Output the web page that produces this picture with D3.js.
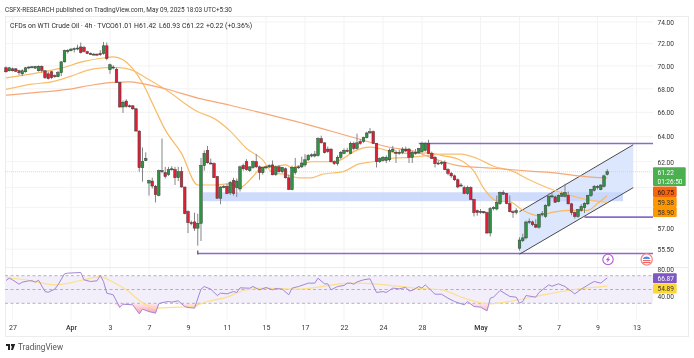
<!DOCTYPE html>
<html><head><meta charset="utf-8">
<script src="https://cdn.jsdelivr.net/npm/d3@7/dist/d3.min.js"></script>
<style>html,body{margin:0;padding:0;background:#fff}svg{display:block;filter:blur(.3px)}text{font-family:Roboto,"Noto Sans",sans-serif}</style>
</head><body><svg id="c" width="694" height="358"></svg>
<script>
const opens=[69.83,69.57,69.74,69.74,69.57,69.3,69.48,69.83,69.85,69.8,69.57,69.95,69.57,69.3,69.48,69.14,69.05,69.4,70.36,71.27,71.36,71.5,71.55,71.7,71.65,71.27,71.1,71.05,71.05,71.1,71.1,71.8,69.66,69.9,69.7,68.55,66.45,66.95,66.55,66.55,66.3,64.46,61.53,62.08,60.35,60.5,60.1,59.4,61.3,61.15,61,61.42,61.38,60.76,61.22,60.05,58.2,57.4,57.45,57,57.35,61.7,62.9,61.9,61.85,60.85,59.2,60.05,60.1,59.6,60.55,60,59.9,61.7,62,61.3,61.55,62,61.6,61.15,61.55,61.6,61.75,61,61.6,61.22,61.45,60.75,59.85,61.15,61.55,61.6,61.75,62.15,62.45,62.45,62.5,63.84,63.5,63,63,62,61.85,62.35,62.65,62.9,62.65,63.45,63.05,63.6,63.6,63.92,64.3,64.4,63.45,62,62.1,62.1,62.15,62.8,62.75,62.72,62.72,63,63,62.35,62.75,62.7,62.8,62.9,63.45,62.65,62.35,61.9,61.9,61.95,61.38,61.1,60.9,60.6,60.2,60,59.55,60,59.1,58.28,58.2,58.2,58.13,56.65,58.42,58.4,58.8,59.62,59.55,58.8,58.2,58.13,55.57,56.1,56.3,57.45,57.45,57.25,57.07,58,57.85,58.65,59.33,59.3,58.95,59.35,59.35,59.4,58.78,58.13,57.85,58.3,58.5,58.78,59.4,59.8,60,59.85,60.1,61.01];
const highs=[69.95,69.9,69.85,69.8,69.65,69.7,69.9,69.95,70,70,70.05,70.05,69.6,69.5,69.55,69.25,69.55,70.4,71.45,71.5,71.6,71.65,71.9,72.1,71.8,71.35,71.2,71.15,71.1,71.4,72.15,72.1,70.2,70.05,69.85,68.6,67,67.1,66.65,66.6,66.35,64.5,63.13,62.74,60.6,60.76,60.2,61.38,63.85,61.6,61.6,61.65,61.6,61.6,61.6,60.05,58.3,57.55,58.13,58.05,62.3,62.9,63.25,62.25,61.95,60.9,60.1,60.2,60.3,60.5,60.75,60.7,61.7,61.85,62.2,61.65,62.1,62.6,61.7,61.6,61.7,61.8,62.1,61.7,61.75,61.6,61.55,61,61.7,62.3,61.7,62.4,62.6,62.6,62.65,62.85,63.95,64.08,63.55,63.2,63.05,62.1,62.5,62.85,63.05,63.1,63.6,63.6,64.25,63.8,64,64.4,64.7,64.5,63.5,62.35,62.45,62.5,63.05,63.25,62.9,62.95,63.15,63.2,63.1,62.85,63,63.1,63.6,63.55,63.75,62.8,62.45,62.1,62.05,62.1,61.5,61.2,61,60.7,60.35,60.15,60.15,60.1,59.15,58.35,58.4,58.25,58.2,58.55,58.6,59.4,59.7,59.8,59.6,59.4,58.3,58.45,56.35,56.6,57.55,57.7,57.55,57.65,58.05,58.25,58.75,59.55,59.7,59.4,59.5,59.7,60.3,59.7,58.85,58.2,58.4,58.75,58.9,59.45,59.9,60.2,60.2,60.25,61,61.42];
const lows=[69.4,69.5,69.5,69.45,69.2,69.1,69.4,69.7,69.8,69.75,69.5,69.4,68.85,68.8,68.85,68.95,69,69.1,70.3,71.1,71.3,71.2,71.4,71.1,71.2,71.05,71,70.95,70.9,70.9,71,70.5,69.3,69.7,68.5,66.4,65.95,66.4,66.4,66.2,64.4,61.22,60.45,62.05,59.4,59.93,58.88,59.35,61.1,60.7,60.9,61.3,60.2,60.5,60,58,56.65,57.2,56.8,55.75,56.08,61.3,61.85,61.8,60.75,59.15,58.75,59.95,59.5,59.45,59.4,59.3,59.7,61.3,61.3,61.2,61.45,61.5,60.6,61,61.4,61.5,60.95,60.9,61.15,61.1,60.7,59.85,59.8,61,61.45,61.5,61.6,62.05,62.35,62.35,62.4,63.45,62.65,62.7,61.95,61.75,61.7,62.2,62.6,62.75,62.6,62.9,62.95,63.35,63.5,63.85,64.25,63.4,61.55,61.9,62,61.9,62,62.75,61.9,62.55,62.6,62.75,61.9,61.9,62.55,62.6,62.7,62.8,62.6,62.25,61.55,61.75,61.75,61.35,60.95,60.75,60.5,59.95,60.05,59.5,59.45,59.05,57.85,57.9,58.05,58.05,56.6,56.4,58.3,58.3,58.7,59.45,58.75,58.15,57.75,58,55.4,56,56.2,57.3,57.15,57,56.95,57.85,57.75,58.55,59.2,58.85,58.9,59.3,59.25,58.75,57.95,57.7,57.75,58.2,58.1,58.7,59.3,59.7,59.85,59.8,60,60.93];
const closes=[69.48,69.83,69.57,69.52,69.4,69.57,69.83,69.9,69.92,69.95,69.95,69.6,68.97,68.88,68.97,69.05,69.4,70.36,71.36,71.4,71.5,71.55,71.6,71.2,71.3,71.1,71.05,71.05,71,71,71.8,70.65,70.1,69.83,68.55,66.45,66.85,66.5,66.5,66.3,64.46,61.53,62,62.26,60.53,60.12,59.47,61.3,61.22,60.85,61.38,61.45,60.76,61.22,60.05,58.06,57.4,57.35,57,57.35,61.7,62.66,61.92,61.85,60.76,59.2,60.05,60.08,59.55,60.4,59.55,60.5,61.6,61.45,61.38,61.6,62,61.6,61.15,61.55,61.6,61.7,60.98,61.6,61.22,61.55,60.75,59.85,61.55,61.55,61.6,61.9,62.15,62.5,62.55,62.6,63.84,63.5,62.72,62.8,62,61.85,62.35,62.75,62.9,62.85,63.45,63.05,63.5,63.45,63.92,64.3,64.4,63.45,62,62.25,62.35,62.35,62.9,63,62.7,62.75,63,62.85,62.35,62.75,62.65,63.05,63.45,63.45,62.65,62.25,61.85,61.85,61.95,61.38,61.1,60.9,60.6,60.05,60.15,59.55,60,59.1,58.13,58.13,58.22,58.12,56.65,58.42,58.5,58.88,59.62,59.5,58.8,58.2,58.13,58.28,56.15,56.3,57.44,57.5,57.25,57.07,58,58.05,58.65,59.33,59.38,58.9,59.4,59.55,59.62,58.78,58.13,57.85,58.35,58.58,58.8,59.4,59.85,60.1,60.08,60.2,60.9,61.22];

const fastBars=[0,8,17,24,30,33,36,39,42,46,49,54,59,64,69,72,76,79,82,86,88,94,100,103,107,112,115,120,126,130,134,140,144,147,151,155,159,164,168,173,179,182,185];
const fastVals=[68.95,69.3,69.8,70.4,70.7,70.8,70.55,69.75,68.5,66.2,64.55,62.66,60.2,60.2,60.3,60,60.85,61.6,61.6,61.75,61.55,62,62,62.15,62.8,63.15,63.05,62.7,62.65,62.7,62.5,62.1,61.25,59.95,59,58.95,58.3,57.9,58.15,58.3,58.3,58.8,59.38];
const midBars=[0,8,14,20,25,31,35,39,43,49,59,64,69,74,79,82,86,90,94,97,104,108,113,120,124,130,134,140,145,150,156,161,166,174,181,185];
const midVals=[67.95,68.4,68.6,69.1,69.6,69.85,69.85,69.6,68.95,67.95,66.05,65.5,64.45,63.05,62.15,61.15,61,60.75,60.75,61,61.25,61.77,62,62.3,62.35,62.5,62.6,62.6,62.25,61.65,61.25,60.6,60.05,59.4,59,58.9];
const slowBars=[0,8,19,27,33,38,42,49,59,69,75,92,108,118,126,130,140,146,152,162,170,176,181,185];
const slowVals=[67.45,67.65,67.95,68.35,68.55,68.6,68.45,68,67.2,66.6,66.2,65.05,63.85,63.15,62.8,62.4,61.65,61.55,61.45,61.25,61.1,60.9,60.78,60.75];

const rsiBars=[0,1,2,4,5,7,8,9,10,12,13,15,16,18,19,23,24,26,28,29,30,31,33,35,36,39,41,42,44,46,47,48,50,51,53,55,56,58,60,61,63,65,66,68,70,71,72,75,76,78,80,82,83,85,87,88,90,93,95,96,98,99,100,102,104,105,106,107,108,110,112,114,116,117,119,121,123,124,125,127,128,129,132,134,136,138,141,142,144,146,148,149,150,152,155,157,158,159,160,163,164,167,168,170,172,175,177,180,181,183,185];
const rsiVals=[63,66.4,64,57.7,60.6,62.6,62.6,60.6,63.5,47,46,50.5,56.8,72.7,73.7,74.6,64,61.6,62.6,70.3,61.6,44.7,42.3,23.9,28.7,27.8,14.7,21.5,18,15.7,29.2,31,32.6,31.6,33.6,25.4,23.9,23,50.5,54.3,50.5,41.3,44.7,43.7,47,45.7,52.4,51.9,54.3,49.5,52.9,49.5,51.4,50.5,42.3,51.9,54.3,59.2,59.2,66.4,58.2,58.2,49.5,54.3,55.8,59.2,59.2,57.7,61,64,65.5,45.7,47,45.7,52,51,53,48,48.6,54.3,52,56.8,43.2,43.2,37.4,32.6,27.8,32.6,25.4,24.4,19,37.4,38.9,48.6,39.9,38.9,30.2,32.6,41.3,38.9,45.7,56.8,54.7,58.2,54.3,43.7,50.5,59.2,61.6,59.2,66.87];
const rsiMaBars=[0,8,15,23,29,32,37,43,46,51,57,62,68,73,80,90,106,116,126,134,141,149,158,167,175,185];
const rsiMaVals=[67.4,62.6,56.8,63,68.8,63,49.5,27.8,23,24,25.4,32.6,38.9,48.6,52,50.5,59.2,57.2,52,49.5,37.4,29.2,35.5,43.7,50,54.89];

const priceTicks=[74,72,70,68,66,64,62,57,55.5];
const gridPrices=[74,72,70,68,66,64,62,60,58.5,57,55.5];
const rsiTicks=[80,40];
const dateBars=[2,20,32,44,56,68,80,92,104,116,128,146,158,170,182,194];
const dateLabels=["27","Apr","3","7","9","11","15","17","22","24","28","May","5","7","9","13"];
const boldDates=["Apr","May"];

const titleText="CSFX-RESEARCH published on TradingView.com, May 09, 2025 18:03 UTC+5:30";
const legendParts=["CFDs on WTI Crude Oil · 4h · TVC","O61.01","H61.42","L60.93","C61.22","+0.22 (+0.36%)"];
const legendX=[10,110,134,159,182,206];
const lastClose=61.22, maFast=59.38, maMid=58.90, maSlow=60.75, rsiLast=66.87, rsiMaLast=54.89;
const zoneTop=59.65, zoneBottom=58.98;
const resistance=63.45, support=57.8, floorLevel=55.2;
const channelBars=[158,193];
const channelUpper=[58.2,63.35];
const channelLower=[55.15,60];

const svg=d3.select("#c");
const x=d3.scaleLinear().domain([0,185]).range([6,607.25]);
const y=d3.scaleLog().domain([55.5,74]).range([249.2,22]);
const r=d3.scaleLinear().domain([30,70]).range([303.3,275.7]);
const L=5,RT=653,TOP=16,PANE=267,BOT=336;

// frame and grid
const grid=svg.append("g").attr("stroke","#f3f3f3").attr("stroke-width",1);
grid.selectAll(".h").data(gridPrices).join("line").attr("x1",L).attr("x2",RT).attr("y1",d=>y(d)).attr("y2",d=>y(d));
grid.selectAll(".v").data(dateBars).join("line").attr("x1",d=>x(d)).attr("x2",d=>x(d)).attr("y1",TOP).attr("y2",320);
const frame=svg.append("g").attr("stroke","#ececec").attr("fill","none");
frame.append("rect").attr("x",L+.5).attr("y",TOP+.5).attr("width",688-L).attr("height",BOT-TOP);
frame.append("line").attr("x1",L).attr("x2",688).attr("y1",PANE+.5).attr("y2",PANE+.5);

// title
svg.append("text").attr("x",5).attr("y",12).attr("font-size",7.4).attr("fill","#333").attr("textLength",227).attr("lengthAdjust","spacingAndGlyphs").text(titleText);
svg.selectAll(".lg").data(legendParts).join("text").attr("x",(d,i)=>legendX[i]).attr("y",28).attr("font-size",6.9).attr("fill","#2a2a2a").text(d=>d);

// zones
const chPoly=channelBars.map((b,i)=>[x(b),y(channelUpper[i])]).concat(channelBars.map((b,i)=>[x(b),y(channelLower[i])]).reverse());
svg.append("polygon").attr("points",chPoly.join(" ")).attr("fill","#dce6fc");
svg.append("rect").attr("x",203).attr("width",420).attr("y",y(zoneTop)).attr("height",y(zoneBottom)-y(zoneTop)).attr("fill","#c6d5fb").attr("opacity",.85);

// last price line
svg.append("line").attr("x1",L).attr("x2",RT).attr("y1",y(lastClose)).attr("y2",y(lastClose)).attr("stroke","#b7dfb9").attr("stroke-dasharray","1 1").attr("stroke-width",.8);

// purple levels
const levels=[[127,resistance],[178,support],[59,floorLevel]];
svg.selectAll(".lv").data(levels).join("line").attr("x1",d=>x(d[0])).attr("x2",RT).attr("y1",d=>y(d[1])).attr("y2",d=>y(d[1])).attr("stroke","#8a6bcb").attr("stroke-width",1.7);
svg.append("line").attr("x1",x(59)).attr("x2",x(59)).attr("y1",y(floorLevel)-3).attr("y2",y(floorLevel)+1).attr("stroke","#555").attr("stroke-width",1.2);

// channel lines
[channelUpper,channelLower].forEach(v=>{
  svg.append("line").attr("x1",x(channelBars[0])).attr("x2",x(channelBars[1])).attr("y1",y(v[0])).attr("y2",y(v[1])).attr("stroke","#4a4a4a").attr("stroke-width",1);
});

// moving averages
const ma=d3.line().x(d=>x(d[0])).y(d=>y(d[1])).curve(d3.curveMonotoneX);
[[fastBars,fastVals,"#f7ba62"],[midBars,midVals,"#f9bf6e"],[slowBars,slowVals,"#f6a878"]].forEach(([b,v,c])=>{
  svg.append("path").attr("d",ma(b.map((k,i)=>[k,v[i]]))).attr("fill","none").attr("stroke",c).attr("stroke-width",1.2);
});

// candles
const bars=d3.range(closes.length);
const cg=svg.append("g");
cg.selectAll(".w").data(bars).join("line").attr("x1",i=>x(i)).attr("x2",i=>x(i)).attr("y1",i=>y(highs[i])).attr("y2",i=>y(lows[i])).attr("stroke","#858585").attr("stroke-width",1);
cg.selectAll(".b").data(bars).join("rect")
 .attr("x",i=>x(i)-1.3).attr("width",2.6)
 .attr("y",i=>y(Math.max(opens[i],closes[i])))
 .attr("height",i=>Math.max(1,Math.abs(y(opens[i])-y(closes[i]))))
 .attr("fill",i=>closes[i]>=opens[i]?"#2e9444":"#e01f35")
 .attr("stroke","#3a3a3a").attr("stroke-width",.5);

// RSI pane
const defs=svg.append("defs");
const gr=defs.append("linearGradient").attr("id","os").attr("x1",0).attr("x2",0).attr("y1",0).attr("y2",1).attr("gradientUnits","objectBoundingBox");
gr.append("stop").attr("offset","0").attr("stop-color","#ff5a78").attr("stop-opacity",.12);
gr.append("stop").attr("offset","1").attr("stop-color","#ff5a78").attr("stop-opacity",.6);
svg.append("rect").attr("x",L).attr("width",RT-L).attr("y",r(70)).attr("height",r(30)-r(70)).attr("fill","#f2eefa");
svg.selectAll(".rb").data([70,50,30]).join("line").attr("x1",L).attr("x2",RT).attr("y1",d=>r(d)).attr("y2",d=>r(d)).attr("stroke","#a3a1ae").attr("stroke-dasharray","3 2.5").attr("stroke-width",.8);
const pts=rsiBars.map((b,i)=>[b,rsiVals[i]]);
svg.append("path").attr("d",d3.area().x(d=>x(d[0])).y0(r(30)).y1(d=>r(Math.min(d[1],30)))(pts)).attr("fill","url(#os)");
const ln=d3.line().x(d=>x(d[0])).y(d=>r(d[1]));
svg.append("path").attr("d",d3.line().x(d=>x(d[0])).y(d=>r(d[1])).curve(d3.curveMonotoneX)(rsiMaBars.map((b,i)=>[b,rsiMaVals[i]]))).attr("fill","none").attr("stroke","#fde08a").attr("stroke-width",1.2);
svg.append("path").attr("d",ln(pts)).attr("fill","none").attr("stroke","#a387d6").attr("stroke-width",1);

// axes
const ya=svg.append("g").attr("transform",`translate(${RT+4.5},0)`).call(d3.axisRight(y).tickValues(priceTicks).tickSize(0).tickPadding(0).tickFormat(d3.format(".2f")));
const ra=svg.append("g").attr("transform",`translate(${RT+4.5},0)`).call(d3.axisRight(r).tickValues(rsiTicks).tickSize(0).tickPadding(0).tickFormat(d3.format(".2f")));
const xa=svg.append("g").attr("transform","translate(0,327.5)").call(d3.axisBottom(x).tickValues(dateBars).tickSize(0).tickPadding(0).tickFormat((d,i)=>dateLabels[i]));
[ya,ra].forEach(g=>{g.select(".domain").remove();g.selectAll("text").attr("font-size",7.2).attr("fill","#333").attr("textLength",16.5).attr("lengthAdjust","spacingAndGlyphs");});
xa.select(".domain").remove();
xa.selectAll("text").attr("font-size",7).attr("fill","#333").attr("dy",".35em").attr("y",0).attr("font-weight",(d,i)=>boldDates.includes(dateLabels[i])?500:400);

// badges
function badge(y0,h,fill,w){return svg.append("rect").attr("x",RT).attr("y",y0).attr("width",w).attr("height",h).attr("fill",fill).attr("rx",1);}
function btxt(t,yy,c,w){svg.append("text").attr("x",RT+4.5).attr("y",yy).attr("font-size",7.2).attr("fill",c).attr("textLength",w).attr("lengthAdjust","spacingAndGlyphs").text(t);}
const fmt=d3.format(".2f");
badge(167.3,18.7,"#4caf50",32.7);btxt(fmt(lastClose),174.8,"#fff",16.5);btxt("01:26:50",183.5,"#fff",25);
badge(186.5,10.5,"#f5650f",23.7);btxt(fmt(maSlow),194.8,"#2a1a10",16.5);
badge(197,10,"#ff9800",23.7);btxt(fmt(maFast),204.8,"#333",16.5);
badge(207,10,"#ff9800",23.7);btxt(fmt(maMid),214.8,"#333",16.5);
badge(273.3,10,"#7e57c2",23.7);btxt(fmt(rsiLast),281.2,"#fff",16.5);
badge(284,9.5,"#fdd835",23.7);btxt(fmt(rsiMaLast),290.8,"#333",16.5);

// events
const ev=svg.append("g").attr("transform","translate(608,259.5)");
ev.append("circle").attr("r",5.2).attr("fill","#fff").attr("stroke","#b35bd0").attr("stroke-width",1.1);
ev.append("path").attr("d","M1.2 -3.6L-2.2 .8H-.2L-1.2 3.6L2.2 -.8H.2Z").attr("fill","#b35bd0");
const fl=svg.append("g").attr("transform","translate(646.7,259.5)");
fl.append("circle").attr("r",5.6).attr("fill","#fff").attr("stroke","#f58a8a").attr("stroke-width",1.3);
fl.append("path").attr("d","M-4 -.5A4.2 4.2 0 0 1 3.6 -.5Z").attr("fill","#4a90e8");
[.6,2.6].forEach(d=>fl.append("rect").attr("x",-3.8).attr("y",d).attr("width",7.6).attr("height",1).attr("fill","#ef5350"));

// logo
const lg=svg.append("g").attr("transform","translate(6,344)").attr("fill","#222");
lg.append("path").attr("d","M0 0H4V6H2V2H0ZM5 0H9.2L7 6H5L6 2.2H5Z");
svg.append("text").attr("x",18).attr("y",350).attr("font-size",8.2).attr("fill","#555").text("TradingView");
</script></body></html>
